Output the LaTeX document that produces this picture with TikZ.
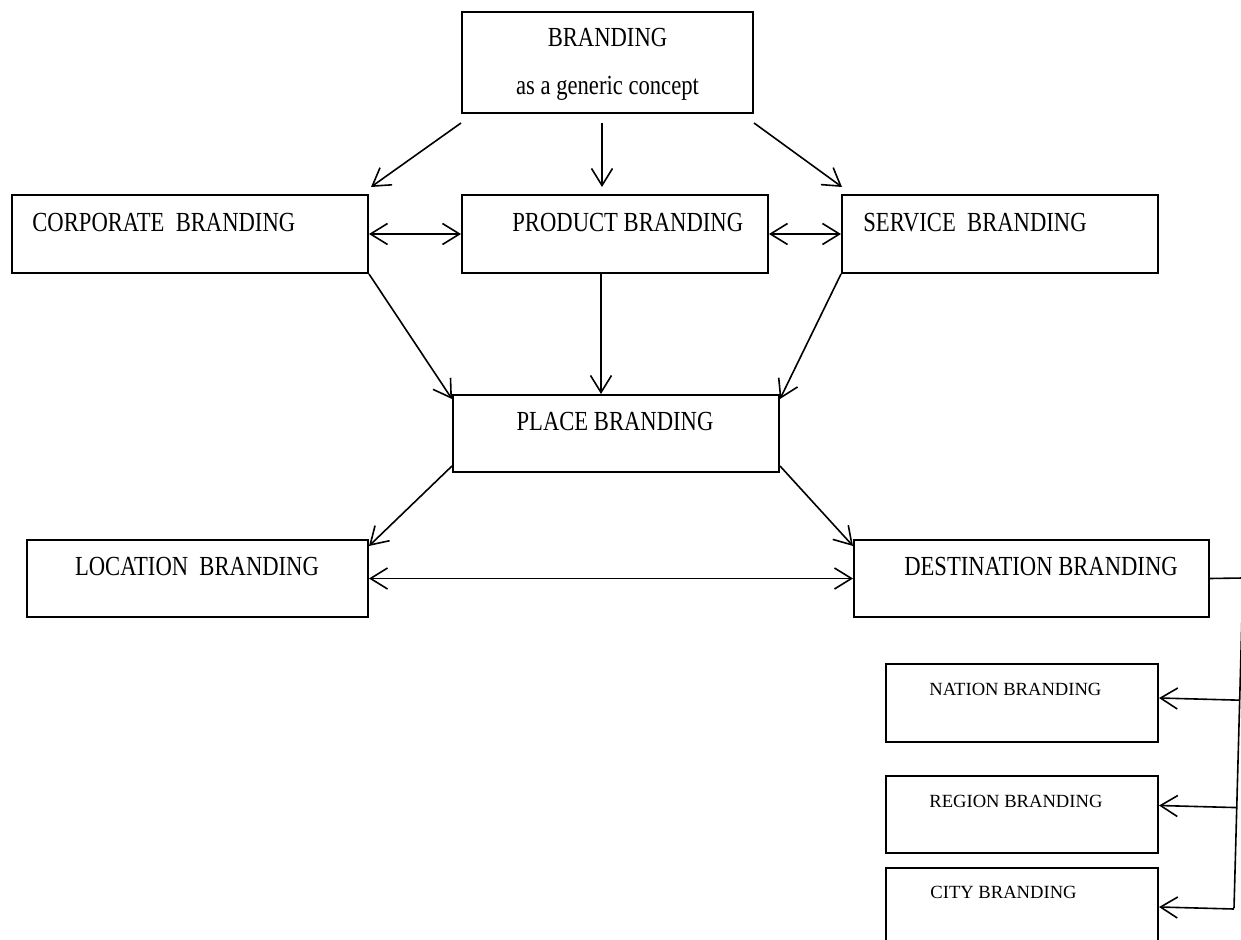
\documentclass[tikz,border=0pt]{standalone}
\usepackage{fontspec}
\setmainfont{Liberation Serif}[FakeStretch=0.82]
\newfontfamily\smallfont{Liberation Serif}
\usetikzlibrary{arrows.meta,calc}
\begin{document}
\begin{tikzpicture}[x=0.5pt,y=-0.5pt,
 box/.style={draw, line width=1pt, inner sep=0pt},
 lbl/.style={inner sep=0pt, anchor=base west, font=\fontsize{13.8}{16}\selectfont},
 lblc/.style={lbl, anchor=base},
 slbl/.style={inner sep=0pt, anchor=base west, font=\smallfont\fontsize{9.3}{11}\selectfont},
 tip/.tip={Straight Barb[length=8.5pt,width=10.5pt]},
 conn/.style={line width=0.8pt, -tip},
 dconn/.style={line width=0.8pt, tip-tip},
 plain/.style={line width=0.8pt}]
\path[use as bounding box, clip] (0,0) rectangle (1241,940);
\fill[white] (0,0) rectangle (1241,940);

% boxes
\node[box, minimum width=145.5pt, minimum height=50.5pt] (brand) at (607.5,62.5) {};
\node[box, minimum width=178pt, minimum height=39pt] (corp) at (190,234) {};
\node[box, minimum width=153pt, minimum height=39pt] (prod) at (615,234) {};
\node[box, minimum width=158pt, minimum height=39pt] (serv) at (1000,234) {};
\node[box, minimum width=163pt, minimum height=38.5pt] (place) at (616,433.5) {};
\node[box, minimum width=170.5pt, minimum height=38.5pt] (loc) at (197.5,578.5) {};
\node[box, minimum width=177.5pt, minimum height=38.5pt] (dest) at (1031.5,578.5) {};
\node[box, minimum width=136pt, minimum height=39pt] (nation) at (1022,703) {};
\node[box, minimum width=136pt, minimum height=38.5pt] (region) at (1022,814.5) {};
\node[box, minimum width=136pt, minimum height=41pt] (city) at (1022,909) {};

% texts
\node[lblc] (tbrand) at (607.5,47) {BRANDING};
\node[lblc] (tbrand2) at (607.5,95) {as a generic concept};
\node[lbl] (tcorp) at (32,232) {CORPORATE\ \ BRANDING};
\node[lbl] (tprod) at (512,232) {PRODUCT BRANDING};
\node[lbl] (tserv) at (863,232) {SERVICE\ \ BRANDING};
\node[lblc] (tplace) at (615,431) {PLACE BRANDING};
\node[lblc] (tloc) at (197,575) {LOCATION\ \ BRANDING};
\node[lblc] (tdest) at (1041,575) {DESTINATION BRANDING};
\node[slbl] (tnation) at (929,695) {NATION BRANDING};
\node[slbl] (tregion) at (929,807) {REGION BRANDING};
\node[slbl] (tcity) at (930,898) {CITY BRANDING};

% connectors
\draw[conn] ($(brand.south west)+(0,9)$) -- ($(corp.north east)+(2,-7)$);
\draw[conn] ($(brand.south)+(-5.5,9)$) -- ($(prod.north)+(-13,-7)$);
\draw[conn] ($(brand.south east)+(0,9)$) -- ($(serv.north west)+(1,-7)$);
\draw[dconn] (corp.east) -- (prod.west);
\draw[dconn] (prod.east) -- (serv.west);
\draw[conn] (corp.south east) -- ($(place.north west)+(0,5)$);
\draw[conn] ($(prod.south)+(-14,0)$) -- ($(place.north)+(-15,0)$);
\draw[conn] (serv.south west) -- ($(place.north east)+(0,5)$);
\draw[conn] ($(place.south west)+(0,-7)$) -- ($(loc.north east)+(0,7)$);
\draw[conn] ($(place.south east)+(0,-7)$) -- ($(dest.north west)+(0,7)$);
\draw[dconn] (loc.east) -- (dest.west);

\coordinate (jt) at (1243,578);
\coordinate (jb) at (1234,908);
\draw[plain] (dest.east) -- (jt) -- (jb);
\coordinate (en) at ($(nation.east)+(0,-5)$);
\coordinate (er) at ($(region.east)+(0,-9)$);
\coordinate (ec) at ($(city.east)+(0,-2)$);
\draw[conn] ($(jt)!(en)!(jb)$) -- (en);
\draw[conn] ($(jt)!(er)!(jb)$) -- (er);
\draw[conn] ($(jt)!(ec)!(jb)$) -- (ec);
\end{tikzpicture}
\end{document}
